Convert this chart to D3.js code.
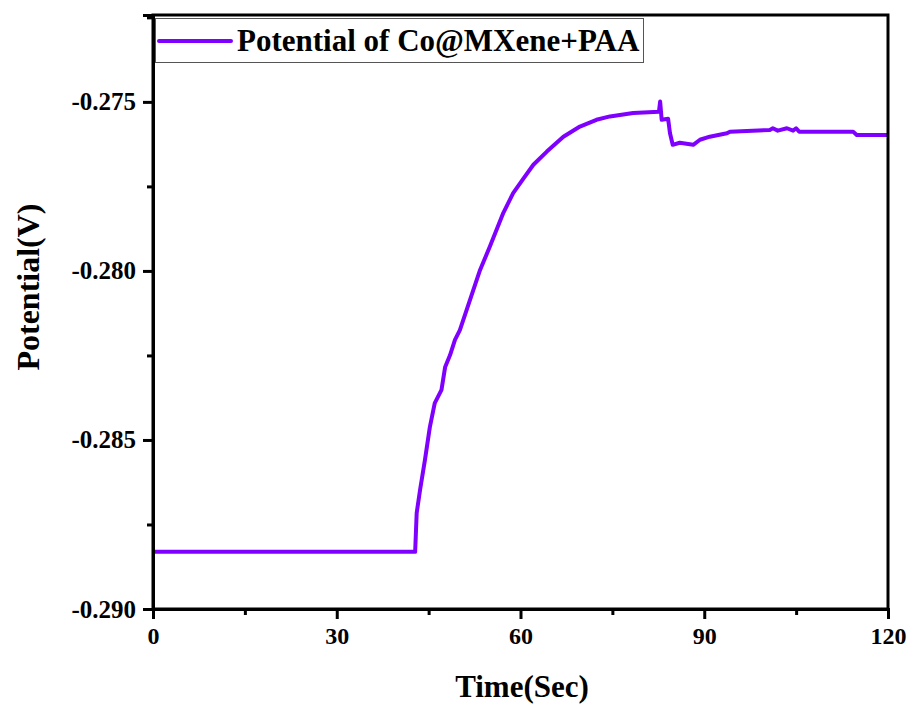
<!DOCTYPE html>
<html>
<head>
<meta charset="utf-8">
<script src="https://cdn.jsdelivr.net/npm/d3@7"></script>
<style>
  body { margin: 0; background: #fff; }
  text { font-family: "Liberation Serif", "Times New Roman", serif; font-weight: bold; }
</style>
</head>
<body>
<div id="chart"></div>
<script>
const width = 910;
const height = 707;
const margin = { top: 15, right: 22, bottom: 98, left: 153 };

// time (s) and potential (V)
const timeSec = [0, 42.8, 43.05, 43.6, 44.4, 45.2, 46.0, 47.1, 47.7, 48.5, 49.3, 50.1,
  53.4, 55.0, 57.2, 58.8, 60.5, 62.1, 64.3, 67.0, 69.7, 72.4, 74.6, 78.4, 82.6, 82.8,
  83.05, 84.1, 84.4, 84.85, 86.0, 88.2, 89.3, 90.9, 93.7, 94.2, 100.7, 101.2, 102.0,
  103.5, 104.5, 105.0, 105.5, 114.3, 114.9, 120];
const potential = [-0.28831, -0.28831, -0.28716, -0.28648, -0.28559, -0.28462, -0.28391,
  -0.28352, -0.28284, -0.28249, -0.28204, -0.28175, -0.27997, -0.27928, -0.27828, -0.27770,
  -0.27726, -0.27686, -0.27647, -0.27603, -0.27573, -0.27553, -0.27543, -0.27533, -0.27529,
  -0.27499, -0.27553, -0.27550, -0.27592, -0.27627, -0.27621, -0.27627, -0.27612, -0.27603,
  -0.27593, -0.27588, -0.27583, -0.27578, -0.27585, -0.27578, -0.27585, -0.27578, -0.27588,
  -0.27588, -0.27598, -0.27598];
const xTicks = [0, 30, 60, 90, 120];
const yTicks = [-0.290, -0.285, -0.280, -0.275];
const seriesName = "Potential of Co@MXene+PAA";

const lineColor = "#8000ff";

const svg = d3.select("#chart").append("svg")
  .attr("width", width)
  .attr("height", height);

const x = d3.scaleLinear().domain([0, 120]).range([margin.left, width - margin.right]);
const y = d3.scaleLinear().domain([-0.290, -0.27243]).range([height - margin.bottom, margin.top]);

const data = timeSec.map((t, i) => ({ t: t, v: potential[i] }));

// line
svg.append("path")
  .datum(data)
  .attr("fill", "none")
  .attr("stroke", lineColor)
  .attr("stroke-width", 4)
  .attr("stroke-linejoin", "round")
  .attr("d", d3.line().x(d => x(d.t)).y(d => y(d.v)));

// frame
svg.append("rect")
  .attr("x", margin.left)
  .attr("y", margin.top)
  .attr("width", width - margin.left - margin.right)
  .attr("height", height - margin.top - margin.bottom)
  .attr("fill", "none")
  .attr("stroke", "#000")
  .attr("stroke-width", 3);

// x axis
const xAxis = svg.append("g")
  .attr("transform", `translate(0,${height - margin.bottom})`)
  .call(d3.axisBottom(x).tickValues(xTicks).tickSize(10).tickPadding(8).tickFormat(d3.format("d")));
svg.append("g")
  .attr("transform", `translate(0,${height - margin.bottom})`)
  .call(d3.axisBottom(x).tickValues([15, 45, 75, 105]).tickSize(6).tickFormat(""))
  .call(g => g.select(".domain").remove())
  .selectAll("line").attr("stroke-width", 3);
xAxis.select(".domain").attr("stroke-width", 3);
xAxis.selectAll("line").attr("stroke-width", 3);
xAxis.selectAll("text")
  .attr("font-size", 24)
  .attr("fill", "#000");

// y axis
const yAxis = svg.append("g")
  .attr("transform", `translate(${margin.left},0)`)
  .call(d3.axisLeft(y).tickValues(yTicks).tickSize(10).tickPadding(7).tickFormat(d3.format(".3f")));
svg.append("g")
  .attr("transform", `translate(${margin.left},0)`)
  .call(d3.axisLeft(y).tickValues([-0.2875, -0.2825, -0.2775, -0.2725]).tickSize(6).tickFormat(""))
  .call(g => g.select(".domain").remove())
  .selectAll("line").attr("stroke-width", 3);
yAxis.select(".domain").attr("stroke-width", 3);
yAxis.selectAll("line").attr("stroke-width", 3);
yAxis.selectAll("text")
  .text(d => d3.format(".3f")(d).replace("−", "-"))
  .attr("font-size", 25)
  .attr("fill", "#000");

// axis titles
svg.append("text")
  .attr("x", 522)
  .attr("y", 697)
  .attr("text-anchor", "middle")
  .attr("font-size", 31)
  .text("Time(Sec)");

svg.append("text")
  .attr("transform", "translate(39,287) rotate(-90)")
  .attr("text-anchor", "middle")
  .attr("font-size", 32)
  .text("Potential(V)");

// legend
const legend = svg.append("g");
legend.append("rect")
  .attr("x", 155.5)
  .attr("y", 18.5)
  .attr("width", 488)
  .attr("height", 44)
  .attr("fill", "#fff")
  .attr("stroke", "#555")
  .attr("stroke-width", 1);
legend.append("line")
  .attr("x1", 159).attr("x2", 231)
  .attr("y1", 41).attr("y2", 41)
  .attr("stroke", lineColor)
  .attr("stroke-width", 4)
  .attr("stroke-linecap", "round");
legend.append("text")
  .attr("x", 237)
  .attr("y", 51)
  .attr("font-size", 31)
  .text(seriesName);
</script>
</body>
</html>
